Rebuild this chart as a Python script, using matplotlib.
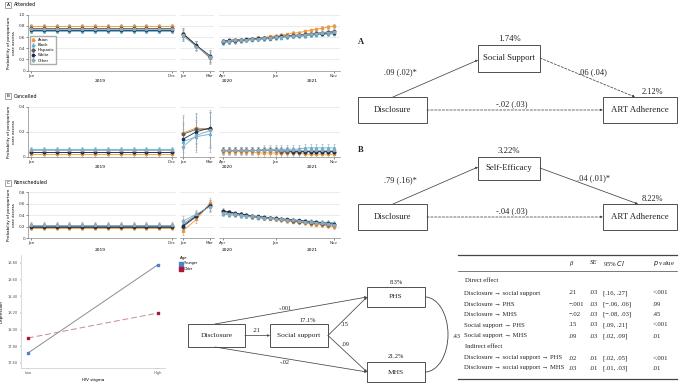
import matplotlib
matplotlib.use('Agg')
import matplotlib.pyplot as plt
from matplotlib.patches import Rectangle, Arc

# ---------------- data ----------------
groups = ['Asian', 'Black', 'Hispanic', 'White', 'Other']
months_2019 = ['Jan', 'Feb', 'Mar', 'Apr', 'May', 'Jun', 'Jul', 'Aug', 'Sep', 'Oct', 'Nov', 'Dec']
months_2020a = ['Jan', 'Feb', 'Mar']
months_later = ['Apr', 'May', 'Jun', 'Jul', 'Aug', 'Sep', 'Oct', 'Nov', 'Dec', 'Jan',
                'Feb', 'Mar', 'Apr', 'May', 'Jun', 'Jul', 'Aug', 'Sep', 'Oct', 'Nov']
year_labels = ['2019', '2020', '2021']

# Attended (12 + 3 + 20 values)
att_asian = [0.79, 0.79, 0.79, 0.79, 0.79, 0.79, 0.79, 0.79, 0.79, 0.79, 0.79, 0.79,
             0.67, 0.45, 0.22,
             0.52, 0.53, 0.54, 0.55, 0.56, 0.57, 0.58, 0.59, 0.61, 0.62,
             0.64, 0.65, 0.67, 0.68, 0.70, 0.72, 0.74, 0.76, 0.78, 0.80]
att_black = [0.71, 0.71, 0.71, 0.71, 0.71, 0.71, 0.71, 0.71, 0.71, 0.71, 0.71, 0.71,
             0.62, 0.44, 0.27,
             0.50, 0.51, 0.52, 0.53, 0.54, 0.55, 0.56, 0.56, 0.57, 0.58,
             0.59, 0.60, 0.61, 0.61, 0.62, 0.63, 0.64, 0.65, 0.65, 0.66]
att_hisp = [0.77, 0.77, 0.77, 0.77, 0.77, 0.77, 0.77, 0.77, 0.77, 0.77, 0.77, 0.77,
            0.65, 0.44, 0.24,
            0.51, 0.52, 0.53, 0.54, 0.55, 0.56, 0.57, 0.58, 0.59, 0.60,
            0.61, 0.62, 0.63, 0.64, 0.65, 0.66, 0.67, 0.68, 0.69, 0.70]
att_white = [0.72, 0.72, 0.72, 0.72, 0.72, 0.72, 0.72, 0.72, 0.72, 0.72, 0.72, 0.72,
             0.66, 0.45, 0.26,
             0.53, 0.54, 0.55, 0.55, 0.56, 0.57, 0.58, 0.58, 0.59, 0.60,
             0.61, 0.62, 0.62, 0.63, 0.64, 0.65, 0.66, 0.66, 0.67, 0.68]
att_other = [0.75, 0.75, 0.75, 0.75, 0.75, 0.75, 0.75, 0.75, 0.75, 0.75, 0.75, 0.75,
             0.63, 0.43, 0.25,
             0.52, 0.53, 0.54, 0.55, 0.55, 0.56, 0.57, 0.58, 0.59, 0.60,
             0.60, 0.61, 0.62, 0.63, 0.64, 0.65, 0.66, 0.67, 0.68, 0.69]
att_err = [0.04, 0.04, 0.04, 0.04, 0.04, 0.04, 0.04, 0.04, 0.04, 0.04, 0.04, 0.04,
           0.10, 0.08, 0.10,
           0.04, 0.04, 0.04, 0.03, 0.03, 0.03, 0.03, 0.03, 0.03, 0.03,
           0.03, 0.03, 0.03, 0.03, 0.03, 0.03, 0.03, 0.03, 0.03, 0.03]

# Cancelled
can_asian = [0.02, 0.02, 0.02, 0.02, 0.02, 0.02, 0.02, 0.02, 0.02, 0.02, 0.02, 0.02,
             0.19, 0.23, 0.22,
             0.04, 0.04, 0.04, 0.04, 0.04, 0.04, 0.03, 0.03, 0.03, 0.03,
             0.03, 0.03, 0.03, 0.03, 0.02, 0.02, 0.02, 0.02, 0.02, 0.02]
can_black = [0.06, 0.06, 0.06, 0.06, 0.06, 0.06, 0.06, 0.06, 0.06, 0.06, 0.06, 0.06,
             0.12, 0.16, 0.18,
             0.05, 0.05, 0.05, 0.05, 0.05, 0.05, 0.05, 0.06, 0.06, 0.06,
             0.06, 0.06, 0.06, 0.06, 0.07, 0.07, 0.07, 0.07, 0.07, 0.07]
can_hisp = [0.04, 0.04, 0.04, 0.04, 0.04, 0.04, 0.04, 0.04, 0.04, 0.04, 0.04, 0.04,
            0.18, 0.22, 0.22,
            0.05, 0.05, 0.05, 0.05, 0.05, 0.05, 0.05, 0.05, 0.05, 0.05,
            0.04, 0.04, 0.04, 0.04, 0.04, 0.04, 0.04, 0.04, 0.04, 0.04]
can_white = [0.04, 0.04, 0.04, 0.04, 0.04, 0.04, 0.04, 0.04, 0.04, 0.04, 0.04, 0.04,
             0.14, 0.20, 0.23,
             0.05, 0.05, 0.05, 0.05, 0.05, 0.05, 0.05, 0.05, 0.05, 0.05,
             0.05, 0.05, 0.04, 0.04, 0.04, 0.04, 0.04, 0.04, 0.04, 0.04]
can_other = [0.05, 0.05, 0.05, 0.05, 0.05, 0.05, 0.05, 0.05, 0.05, 0.05, 0.05, 0.05,
             0.08, 0.17, 0.21,
             0.05, 0.05, 0.05, 0.05, 0.05, 0.05, 0.05, 0.05, 0.05, 0.05,
             0.05, 0.05, 0.05, 0.05, 0.05, 0.05, 0.05, 0.05, 0.05, 0.05]
can_err = [0.02, 0.02, 0.02, 0.02, 0.02, 0.02, 0.02, 0.02, 0.02, 0.02, 0.02, 0.02,
           0.14, 0.12, 0.14,
           0.03, 0.03, 0.03, 0.03, 0.03, 0.03, 0.03, 0.03, 0.03, 0.03,
           0.03, 0.03, 0.03, 0.03, 0.03, 0.03, 0.03, 0.03, 0.03, 0.03]

# Nonscheduled
non_asian = [0.18, 0.18, 0.18, 0.18, 0.18, 0.18, 0.18, 0.18, 0.18, 0.18, 0.18, 0.18,
             0.13, 0.33, 0.61,
             0.45, 0.43, 0.42, 0.40, 0.39, 0.37, 0.36, 0.35, 0.34, 0.33,
             0.31, 0.30, 0.29, 0.28, 0.26, 0.25, 0.24, 0.23, 0.21, 0.20]
non_black = [0.24, 0.24, 0.24, 0.24, 0.24, 0.24, 0.24, 0.24, 0.24, 0.24, 0.24, 0.24,
             0.25, 0.41, 0.56,
             0.42, 0.41, 0.40, 0.39, 0.38, 0.37, 0.36, 0.35, 0.35, 0.34,
             0.33, 0.32, 0.32, 0.31, 0.30, 0.30, 0.29, 0.28, 0.28, 0.27]
non_hisp = [0.22, 0.22, 0.22, 0.22, 0.22, 0.22, 0.22, 0.22, 0.22, 0.22, 0.22, 0.22,
            0.20, 0.38, 0.58,
            0.47, 0.45, 0.43, 0.42, 0.40, 0.38, 0.37, 0.36, 0.35, 0.34,
            0.33, 0.31, 0.30, 0.29, 0.28, 0.27, 0.26, 0.25, 0.24, 0.23]
non_white = [0.20, 0.20, 0.20, 0.20, 0.20, 0.20, 0.20, 0.20, 0.20, 0.20, 0.20, 0.20,
             0.22, 0.39, 0.57,
             0.48, 0.46, 0.44, 0.42, 0.41, 0.39, 0.38, 0.37, 0.36, 0.35,
             0.34, 0.33, 0.32, 0.31, 0.30, 0.29, 0.28, 0.27, 0.26, 0.25]
non_other = [0.23, 0.23, 0.23, 0.23, 0.23, 0.23, 0.23, 0.23, 0.23, 0.23, 0.23, 0.23,
             0.30, 0.42, 0.55,
             0.44, 0.43, 0.42, 0.40, 0.39, 0.38, 0.37, 0.36, 0.35, 0.34,
             0.33, 0.32, 0.31, 0.30, 0.29, 0.28, 0.27, 0.26, 0.25, 0.24]
non_err = [0.04, 0.04, 0.04, 0.04, 0.04, 0.04, 0.04, 0.04, 0.04, 0.04, 0.04, 0.04,
           0.08, 0.07, 0.09,
           0.04, 0.04, 0.03, 0.03, 0.03, 0.03, 0.03, 0.03, 0.03, 0.03,
           0.03, 0.03, 0.03, 0.03, 0.03, 0.03, 0.03, 0.03, 0.03, 0.03]

# Depression x HIV stigma interaction
stigma_levels = ['Low', 'High']
dep_younger = [17.72, 18.78]
dep_older = [17.90, 18.20]
dep_ticks = [17.6, 17.8, 18.0, 18.2, 18.4, 18.6, 18.8]

# Mediation diagrams
medA_coef = ['.09 (.02)*', '.06 (.04)', '-.02 (.03)']
medA_r2 = ['1.74%', '2.12%']
medB_coef = ['.79 (.16)*', '.04 (.01)*', '-.04 (.03)']
medB_r2 = ['3.22%', '8.22%']

# Path model
path_coef = ['.21', '-.001', '-.02', '.15', '.09', '.43']
path_r2 = ['17.1%', '8.3%', '21.2%']

# Table
tbl_effects = ['Disclosure \u2192 social support', 'Disclosure \u2192 PHS', 'Disclosure \u2192 MHS',
               'Social support \u2192 PHS', 'Social support \u2192 MHS',
               'Disclosure \u2192 social support \u2192 PHS', 'Disclosure \u2192 social support \u2192 MHS']
tbl_beta = ['.21', '\u2212.001', '\u2212.02', '.15', '.09', '.02', '.03']
tbl_se = ['.03', '.03', '.03', '.03', '.03', '.01', '.01']
tbl_ci = ['[.16, .27]', '[\u2212.06, .06]', '[\u2212.08, .03]', '[.09, .21]', '[.02, .09]',
          '[.02, .05]', '[.01, .03]']
tbl_p = ['<.001', '.99', '.45', '<.001', '.01', '<.001', '.01']

# ---------------- figure ----------------
W, H = 680, 384
fig = plt.figure(figsize=(6.8, 3.84), dpi=100)
plt.rcParams['font.family'] = ['DejaVu Sans']
SERIF = ['Liberation Serif', 'DejaVu Serif']


def px_axes(x0, y0, x1, y1):
    return fig.add_axes([x0 / W, 1 - y1 / H, (x1 - x0) / W, (y1 - y0) / H])


colors = {'Asian': '#f0983c', 'Black': '#56b4d9', 'Hispanic': '#5a5a5a',
          'White': '#1c2f4a', 'Other': '#8fa9bb'}
markers = {'Asian': 's', 'Black': '^', 'Hispanic': 'D', 'White': 'o', 'Other': 'o'}

segments = [
    (0, 12, 28, 176, (-0.23, 11.31), [0, 11], [months_2019[0], months_2019[11]]),
    (12, 15, 180, 214, (-0.22, 2.3), [0, 2], [months_2020a[0], months_2020a[2]]),
    (15, 35, 219, 340, (-0.68, 20.03), [0, 9, 19], [months_later[0], months_later[9], months_later[19]]),
]


def draw_panel(top, bottom, ymax, yticks, series, err, letter, title, label_y, year_y, legend=False):
    for si, (a, b, x0, x1, xl, tix, tlab) in enumerate(segments):
        ax = px_axes(x0, top, x1, bottom)
        xs = list(range(b - a))
        for g in groups:
            ax.errorbar(xs, series[g][a:b], yerr=err[a:b], color=colors[g], marker=markers[g],
                        markersize=1.6, lw=0.6, elinewidth=0.4, capsize=0.8, capthick=0.4,
                        ecolor='#9aa7b0', label=g)
        ax.set_xlim(*xl)
        ax.set_ylim(0, ymax)
        ax.set_yticks(yticks)
        ax.grid(axis='y', color='#e3e3e3', lw=0.5)
        ax.set_axisbelow(True)
        for s in ['top', 'right']:
            ax.spines[s].set_visible(False)
        ax.spines['bottom'].set_color('#888888')
        ax.spines['bottom'].set_linewidth(0.5)
        ax.set_xticks(tix)
        ax.set_xticklabels(tlab)
        ax.tick_params(axis='x', labelsize=3, length=1.2, width=0.4, pad=1, colors='#333333')
        if si == 0:
            ax.spines['left'].set_color('#888888')
            ax.spines['left'].set_linewidth(0.5)
            ax.set_yticklabels(['0' if v == 0 else f'{v:.1f}' for v in yticks])
            ax.tick_params(axis='y', labelsize=3, length=1.2, width=0.4, pad=1, colors='#333333')
            ax.set_ylabel('Probability of postpartum\ncare access', fontsize=3, labelpad=2)
        else:
            ax.spines['left'].set_visible(False)
            ax.tick_params(axis='y', left=False, labelleft=False)
        if legend and si == 0:
            ax.legend(loc='lower left', fontsize=2.8, frameon=True, handlelength=0.8,
                      borderpad=0.4, labelspacing=0.3, edgecolor='#999999',
                      fancybox=False, bbox_to_anchor=(0.0, 0.08))
    fig.text(8 / W, 1 - label_y / H, letter, fontsize=3.2, ha='center', va='center',
             bbox=dict(boxstyle='square,pad=0.3', fc='white', ec='#666666', lw=0.4))
    fig.text(14 / W, 1 - label_y / H, title, fontsize=3.4, ha='left', va='center')
    for txt, xp in zip(year_labels, [100, 227, 312]):
        fig.text(xp / W, 1 - year_y / H, txt, fontsize=3.2, ha='center', va='center')


draw_panel(14.7, 70.5, 1.0, [0, 0.2, 0.4, 0.6, 0.8, 1.0],
           {'Asian': att_asian, 'Black': att_black, 'Hispanic': att_hisp,
            'White': att_white, 'Other': att_other}, att_err, 'A', 'Attended', 5, 81, legend=True)
draw_panel(106.7, 156.7, 0.4, [0, 0.2, 0.4],
           {'Asian': can_asian, 'Black': can_black, 'Hispanic': can_hisp,
            'White': can_white, 'Other': can_other}, can_err, 'B', 'Cancelled', 96, 167)
draw_panel(192.3, 238.3, 0.8, [0, 0.2, 0.4, 0.6, 0.8],
           {'Asian': non_asian, 'Black': non_black, 'Hispanic': non_hisp,
            'White': non_white, 'Other': non_other}, non_err, 'C', 'Nonscheduled', 183, 250)

# ---------------- depression chart ----------------
axd = px_axes(21, 255, 165, 368)
xs = [0, 1]
axd.plot(xs, dep_younger, color='#8c8c8c', lw=0.7, ls='-', zorder=1)
axd.plot(xs, dep_older, color='#c98a8a', lw=0.7, ls=(0, (6, 3)), zorder=1)
axd.scatter(xs, dep_younger, s=3, color='#4a86c8', zorder=2, label='Younger', marker='s')
axd.scatter(xs, dep_older, s=3, color='#b0153a', zorder=2, label='Older', marker='s')
axd.set_xlim(-0.054, 1.054)
axd.set_ylim(17.54, 18.896)
axd.set_yticks(dep_ticks)
axd.set_yticklabels([f'{v:.2f}' for v in dep_ticks])
axd.set_xticks(xs)
axd.set_xticklabels(stigma_levels)
axd.tick_params(labelsize=2.6, length=1, width=0.3, pad=1, colors='#555555')
for s in ['top', 'right']:
    axd.spines[s].set_visible(False)
for s in ['left', 'bottom']:
    axd.spines[s].set_color('#bbbbbb')
    axd.spines[s].set_linewidth(0.4)
axd.set_ylabel('Depression', fontsize=3, labelpad=3)
axd.set_xlabel('HIV stigma', fontsize=3, labelpad=2)
leg = axd.legend(title='Age', loc='upper left', bbox_to_anchor=(1.08, 1.02), fontsize=2.4,
                 title_fontsize=2.8, frameon=False, handlelength=0.6, markerscale=1.3)
leg._legend_box.align = 'left'

# ---------------- overlay for diagrams & table ----------------
ov = fig.add_axes([0, 0, 1, 1])
ov.set_xlim(0, W)
ov.set_ylim(H, 0)
ov.axis('off')
ov.patch.set_alpha(0)


def box(x0, y0, x1, y1, text, fs):
    ov.add_patch(Rectangle((x0, y0), x1 - x0, y1 - y0, fill=False, ec='#333333', lw=0.6))
    ov.text((x0 + x1) / 2, (y0 + y1) / 2, text, ha='center', va='center', fontsize=fs,
            family=SERIF, color='#222222')


def arrow(p0, p1, ls='-'):
    ov.annotate('', xy=p1, xytext=p0,
                arrowprops=dict(arrowstyle='-|>', lw=0.55, color='#444444', ls=ls,
                                mutation_scale=3, shrinkA=0, shrinkB=0))


def t(x, y, s, fs=6, **kw):
    ov.text(x, y, s, ha=kw.pop('ha', 'center'), va=kw.pop('va', 'center'), fontsize=fs,
            family=SERIF, color='#222222', **kw)


# Mediation A
t(358, 42, 'A', 6, ha='left', weight='bold')
box(478, 45, 540, 72, 'Social Support', 6.2)
box(358, 97, 427, 123, 'Disclosure', 6.2)
box(603, 97, 677, 123, 'ART Adherence', 6.4)
t(509, 39, medA_r2[0], 6.3)
t(652, 92, medA_r2[1], 6)
arrow((393, 97), (478, 60))
arrow((540, 58), (635, 97), ls=(0, (3, 2)))
arrow((427, 110), (603, 110), ls=(0, (3, 2)))
t(400, 72, medA_coef[0], 6)
t(592, 72, medA_coef[1], 6)
t(512, 104, medA_coef[2], 6)

# Mediation B
t(358, 150, 'B', 6, ha='left', weight='bold')
box(478, 157, 540, 180, 'Self-Efficacy', 6.2)
box(358, 204, 427, 230, 'Disclosure', 6.2)
box(603, 204, 677, 230, 'ART Adherence', 6.4)
t(509, 151, medB_r2[0], 6.3)
t(652, 199, medB_r2[1], 6)
arrow((393, 204), (478, 167))
arrow((540, 168), (638, 204))
arrow((427, 217), (603, 217), ls=(0, (3, 2)))
t(400, 180, medB_coef[0], 6)
t(594, 178, medB_coef[1], 6)
t(512, 211, medB_coef[2], 6)

# Path model
box(188, 324, 245, 347, 'Disclosure', 5.4)
box(270, 324, 328, 347, 'Social support', 5.4)
box(367, 287, 425, 307, 'PHS', 5.4)
box(367, 362, 425, 382, 'MHS', 5.4)
arrow((245, 335.5), (270, 335.5))
arrow((215, 324), (367, 297))
arrow((215, 347), (367, 372))
arrow((328, 335.5), (367, 297))
arrow((328, 335.5), (367, 372))
ov.add_patch(Arc((425, 334.5), 46, 75, theta1=-90, theta2=90, lw=0.6, color='#444444'))
t(257, 330, path_coef[0], 4.6)
t(285, 309, path_coef[1], 4.6)
t(285, 363, path_coef[2], 4.6)
t(345, 325, path_coef[3], 4.6)
t(346, 344, path_coef[4], 4.6)
t(453, 336, path_coef[5], 4.6, ha='left')
t(308, 320, path_r2[0], 4.6)
t(396, 282, path_r2[1], 4.6)
t(396, 357, path_r2[2], 4.6)

# Table
ov.plot([458, 677], [255, 255], color='#444444', lw=0.9)
ov.plot([458, 677], [271, 271], color='#444444', lw=0.5)
ov.plot([458, 677], [379, 379], color='#444444', lw=0.9)
FS = 4.8
t(569, 263, '\u03b2', FS, ha='left', style='italic')
t(590, 263, 'SE', FS, ha='left', style='italic')
ov.text(603, 263, '95% $\\mathit{CI}$', ha='left', va='center', fontsize=FS, family=SERIF,
        color='#222222')
ov.text(653, 263, '$\\mathit{p}$ value', ha='left', va='center', fontsize=FS, family=SERIF,
        color='#222222')
t(465, 280, 'Direct effect', FS, ha='left')
t(465, 347, 'Indirect effect', FS, ha='left')
row_y = [293, 304, 314, 325, 336, 358, 368]
for i, y in enumerate(row_y):
    t(464, y, tbl_effects[i], FS, ha='left')
    t(569, y, tbl_beta[i], FS, ha='left')
    t(590, y, tbl_se[i], FS, ha='left')
    t(603, y, tbl_ci[i], FS, ha='left')
    t(653, y, tbl_p[i], FS, ha='left')

fig.savefig('out.png', dpi=100)
